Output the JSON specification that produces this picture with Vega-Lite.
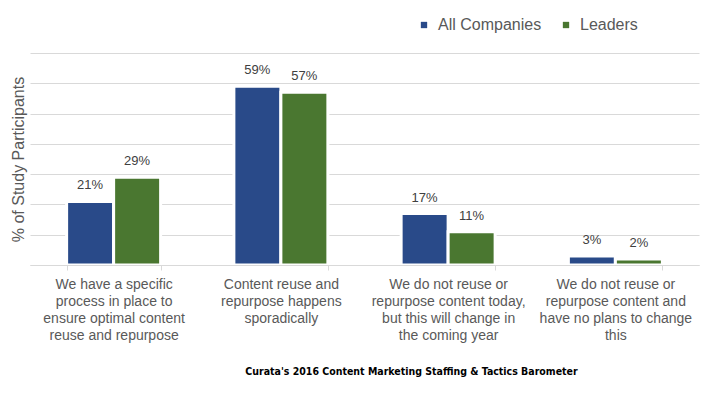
{
  "$schema": "https://vega.github.io/schema/vega-lite/v6.json",
  "width": 669,
  "height": 212,
  "autosize": {"type": "none"},
  "padding": {"left": 30, "top": 53, "right": 21, "bottom": 129},
  "background": "white",
  "config": {
    "view": {"stroke": null},
    "font": "Liberation Sans",
    "text": {"font": "Liberation Sans"}
  },
  "title": {
    "text": "Curata's 2016 Content Marketing Staffing & Tactics Barometer",
    "orient": "bottom",
    "anchor": "middle",
    "dx": 47,
    "offset": 24,
    "font": "DejaVu Sans Condensed, DejaVu Sans",
    "fontSize": 10.5,
    "fontWeight": "bold",
    "color": "#000000"
  },
  "data": {
    "values": [
      {"category": "We have a specific|process in place to|ensure optimal content|reuse and repurpose", "series": "All Companies", "value": 21, "label": "21%"},
      {"category": "We have a specific|process in place to|ensure optimal content|reuse and repurpose", "series": "Leaders", "value": 29, "label": "29%"},
      {"category": "Content reuse and|repurpose happens|sporadically", "series": "All Companies", "value": 59, "label": "59%"},
      {"category": "Content reuse and|repurpose happens|sporadically", "series": "Leaders", "value": 57, "label": "57%"},
      {"category": "We do not reuse or|repurpose content today,|but this will change in|the coming year", "series": "All Companies", "value": 17, "label": "17%"},
      {"category": "We do not reuse or|repurpose content today,|but this will change in|the coming year", "series": "Leaders", "value": 11, "label": "11%"},
      {"category": "We do not reuse or|repurpose content and|have no plans to change|this", "series": "All Companies", "value": 3, "label": "3%"},
      {"category": "We do not reuse or|repurpose content and|have no plans to change|this", "series": "Leaders", "value": 2, "label": "2%"}
    ]
  },
  "encoding": {
    "x": {
      "field": "category",
      "type": "nominal",
      "sort": [
        "We have a specific|process in place to|ensure optimal content|reuse and repurpose",
        "Content reuse and|repurpose happens|sporadically",
        "We do not reuse or|repurpose content today,|but this will change in|the coming year",
        "We do not reuse or|repurpose content and|have no plans to change|this"
      ],
      "scale": {"paddingInner": 0.438, "paddingOuter": 0.219},
      "axis": {
        "title": null,
        "labelAngle": 0,
        "labelExpr": "split(datum.label, '|')",
        "labelFont": "Liberation Sans",
        "labelFontSize": 14,
        "labelColor": "#595959",
        "labelLineHeight": 17.3,
        "labelBaseline": "top",
        "labelPadding": 7,
        "labelLimit": 200,
        "domainColor": "#d9d9d9",
        "tickColor": "#d9d9d9",
        "tickSize": 5,
        "tickBand": "extent",
        "zindex": 1
      }
    },
    "xOffset": {
      "field": "series",
      "type": "nominal",
      "sort": ["All Companies", "Leaders"],
      "scale": {"paddingInner": 0, "paddingOuter": 0}
    },
    "y": {
      "field": "value",
      "type": "quantitative",
      "scale": {"domain": [0, 70], "nice": false},
      "axis": {
        "title": "% of Study Participants",
        "titleFont": "Liberation Sans",
        "titleFontSize": 16,
        "titleFontWeight": "normal",
        "titleColor": "#595959",
        "titlePadding": 4,
        "labels": false,
        "ticks": false,
        "domain": false,
        "values": [0, 10, 20, 30, 40, 50, 60, 70],
        "gridColor": "#d9d9d9",
        "gridWidth": 1
      }
    }
  },
  "layer": [
    {
      "mark": {"type": "bar", "stroke": "white", "strokeWidth": 3},
      "encoding": {
        "color": {
          "field": "series",
          "type": "nominal",
          "sort": ["All Companies", "Leaders"],
          "scale": {"domain": ["All Companies", "Leaders"], "range": ["#294a89", "#4a7730"]},
          "legend": {
            "title": null,
            "orient": "none",
            "direction": "horizontal",
            "legendX": 386,
            "legendY": -36,
            "symbolType": "square",
            "symbolSize": 40,
            "symbolStrokeWidth": 0,
            "labelFont": "Liberation Sans",
            "labelFontSize": 16,
            "labelColor": "#595959",
            "columnPadding": 16,
            "labelOffset": 6
          }
        }
      }
    },
    {
      "mark": {"type": "text", "baseline": "bottom", "dy": -9, "fontSize": 13, "color": "#404040", "font": "Liberation Sans"},
      "encoding": {
        "text": {"field": "label"}
      }
    }
  ]
}
